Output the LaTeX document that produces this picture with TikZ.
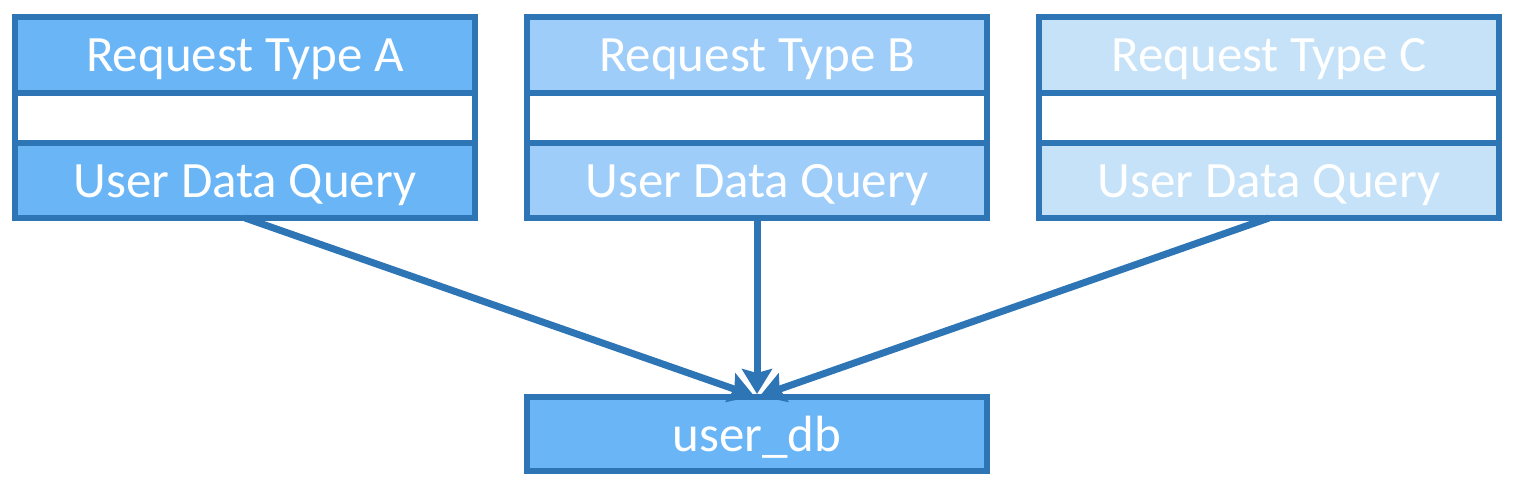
\documentclass[tikz,border=0pt]{standalone}
\usepackage{fontspec}
\setmainfont{Carlito}
\usetikzlibrary{
		positioning,
		arrows.meta
	}
\tikzset{
		>=stealth
	}
\definecolor{edgeblue}{HTML}{2E75B6}
\definecolor{fillA}{HTML}{6AB5F6}
\definecolor{fillB}{HTML}{9DCDF8}
\definecolor{fillC}{HTML}{C5E2F8}

\begin{document}
\begin{tikzpicture}[
				box/.style={draw=edgeblue, line width=0.13cm, outer sep=0pt, inner sep=0pt, minimum width=9.2cm, text=white, text depth=0pt, font=\fontsize{29}{34}\selectfont},
				title/.style={box, minimum height=1.52cm},
				gap/.style={box, fill=white, minimum height=1cm},
				query/.style={box, minimum height=1.5cm},
				link/.style={draw=edgeblue, line width=0.14cm, shorten >=0.06cm, -{Stealth[length=0.5cm, width=0.6cm, inset=0.08cm]}}]
	\useasboundingbox (0,0) rectangle (30.4,-9.76);
	% request A
	\node[title, fill=fillA, anchor=north] (typeA) at (4.9,-0.34) {Request Type A};
	\node[gap, below=0pt of typeA] (gapA) {};
	\node[query, fill=fillA, below=0pt of gapA] (queryA) {User Data Query};
	% request B
	\node[title, fill=fillB, anchor=north] (typeB) at (15.14,-0.34) {Request Type B};
	\node[gap, below=0pt of typeB] (gapB) {};
	\node[query, fill=fillB, below=0pt of gapB] (queryB) {User Data Query};
	% request C
	\node[title, fill=fillC, anchor=north] (typeC) at (25.38,-0.34) {Request Type C};
	\node[gap, below=0pt of typeC] (gapC) {};
	\node[query, fill=fillC, below=0pt of gapC] (queryC) {User Data Query};
	% database
	\node[box, fill=fillA, minimum height=1.48cm, anchor=north] (userdb) at (15.14,-7.94) {user\_db};
	\draw[link] (queryA.south) -- (userdb.north);
	\draw[link] (queryB.south) -- (userdb.north);
	\draw[link] (queryC.south) -- (userdb.north);
\end{tikzpicture}
\end{document}
